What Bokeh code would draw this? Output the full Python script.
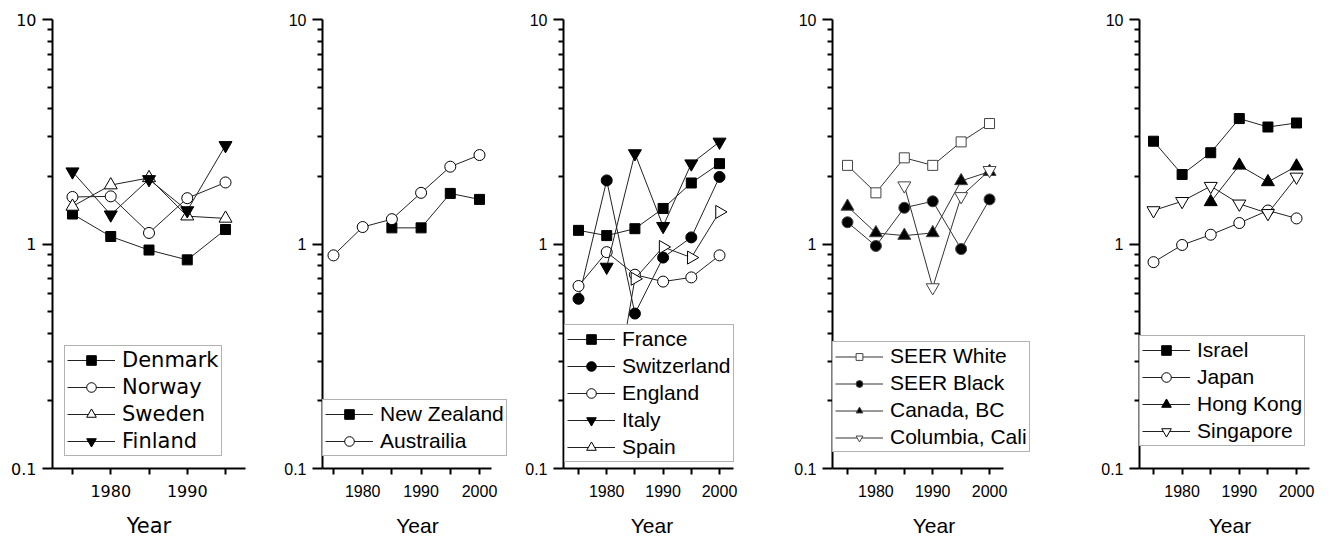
from bokeh.plotting import figure
from bokeh.layouts import row
from bokeh.models import Legend, LegendItem, FixedTicker, Range1d, BasicTickFormatter
from bokeh.embed import file_html
from bokeh.resources import INLINE
import math

# ---------------- data ----------------
years_75_95 = [1975, 1980, 1985, 1990, 1995]
years_75_00 = [1975, 1980, 1985, 1990, 1995, 2000]
years_80_00 = [1980, 1985, 1990, 1995, 2000]
years_85_00 = [1985, 1990, 1995, 2000]

# Panel 1 - Nordic
denmark = [1.36, 1.08, 0.94, 0.85, 1.16]
norway = [1.62, 1.63, 1.12, 1.60, 1.88]
sweden = [1.47, 1.83, 1.97, 1.33, 1.30]
finland = [2.10, 1.35, 1.94, 1.41, 2.75]

# Panel 2 - Oceania
new_zealand = [1.18, 1.18, 1.68, 1.58]
australia = [0.89, 1.19, 1.29, 1.69, 2.21, 2.49]

# Panel 3 - Europe
france = [1.15, 1.09, 1.17, 1.44, 1.87, 2.28]
switzerland = [0.57, 1.92, 0.49, 0.87, 1.07, 1.99]
england = [0.65, 0.92, 0.73, 0.68, 0.71, 0.89]
italy = [0.79, 2.53, 1.20, 2.28, 2.85]
spain = [0.13, 0.70, 0.97, 0.87, 1.39]

# Panel 4 - Americas
seer_white = [2.24, 1.69, 2.42, 2.24, 2.85, 3.44]
seer_black = [1.25, 0.98, 1.45, 1.55, 0.95, 1.58]
canada_bc = [1.47, 1.12, 1.09, 1.12, 1.91, 2.10]
columbia_cali = [1.82, 0.64, 1.63, 2.13]

# Panel 5 - Asia
israel = [2.87, 2.04, 2.55, 3.62, 3.32, 3.46]
japan = [0.83, 0.99, 1.10, 1.24, 1.41, 1.30]
hong_kong = [1.54, 2.24, 1.89, 2.22]
singapore = [1.41, 1.55, 1.81, 1.51, 1.37, 1.99]

# ticks
y_ticks = [0.1, 1, 10]
y_tick_labels = ["0.1", "1", "10"]
y_minor_ticks = [0.2, 0.3, 0.4, 0.5, 0.6, 0.7, 0.8, 0.9, 2, 3, 4, 5, 6, 7, 8, 9]
x_ticks = [1980, 1990, 2000]
x_tick_labels = ["1980", "1990", "2000"]
x_minor_ticks = [1975, 1985, 1995]

FONT = "Liberation Sans"

MARK = {
    "sq_f": dict(marker="square", fill_color="black", size=10, angle=0.0),
    "sq_o": dict(marker="square", fill_color="white", size=10, angle=0.0),
    "ci_f": dict(marker="circle", fill_color="black", size=11, angle=0.0),
    "ci_o": dict(marker="circle", fill_color="white", size=11, angle=0.0),
    "tu_f": dict(marker="triangle", fill_color="black", size=13, angle=0.0),
    "tu_o": dict(marker="triangle", fill_color="white", size=13, angle=0.0),
    "td_f": dict(marker="inverted_triangle", fill_color="black", size=13, angle=0.0),
    "td_o": dict(marker="inverted_triangle", fill_color="white", size=13, angle=0.0),
    "tr_o": dict(marker="triangle", fill_color="white", size=13, angle=-math.pi / 2),
}


def make_panel(width, left, right, axis_span, frame_right, series, legend_loc,
               legend_glyph_h=24, line_color="#222222", marker_line="black",
               font=FONT):
    x0, x1 = axis_span
    p = figure(width=width, height=540, y_axis_type="log",
               x_range=Range1d(x0, frame_right), y_range=Range1d(0.1, 10),
               output_backend="svg", toolbar_location=None,
               min_border_left=left, min_border_right=right,
               min_border_top=19, min_border_bottom=70)
    p.outline_line_color = None
    p.xgrid.visible = False
    p.ygrid.visible = False
    p.background_fill_color = "white"
    p.border_fill_color = "white"

    items = []
    for label, xs, ys, mk in series:
        lr = p.line(xs, ys, line_color=line_color, line_width=1)
        m = MARK[mk]
        sr = p.scatter(xs, ys, marker=m["marker"], size=m["size"], angle=m["angle"],
                       fill_color=m["fill_color"], line_color=marker_line, line_width=1)
        items.append(LegendItem(label=label, renderers=[lr, sr]))

    for ax in p.axis:
        ax.axis_line_width = 2
        ax.axis_line_color = "black"
        ax.major_tick_line_width = 2
        ax.minor_tick_line_width = 2
        ax.major_tick_in = 0
        ax.minor_tick_in = 0
        ax.major_label_text_font = font
        ax.major_label_text_font_size = "16px"
        ax.major_label_text_color = "black"

    yax = p.yaxis[0]
    yax.ticker = FixedTicker(ticks=y_ticks, minor_ticks=y_minor_ticks)
    yax.formatter = BasicTickFormatter()
    yax.major_label_overrides = dict(zip(y_ticks, y_tick_labels))
    yax.major_tick_out = 10
    yax.minor_tick_out = 5
    yax.major_label_standoff = 6

    xax = p.xaxis[0]
    xax.bounds = (x0, x1)
    xax.ticker = FixedTicker(ticks=x_ticks, minor_ticks=x_minor_ticks)
    xax.major_label_overrides = dict(zip(x_ticks, x_tick_labels))
    xax.major_tick_out = 6
    xax.minor_tick_out = 6
    xax.major_label_standoff = 10
    xax.axis_label = "Year"
    xax.axis_label_text_font = font
    xax.axis_label_text_font_size = "21px"
    xax.axis_label_text_font_style = "normal"
    xax.axis_label_text_color = "black"
    xax.axis_label_standoff = 14

    legend = Legend(items=items, location=legend_loc, padding=2, spacing=3,
                    glyph_width=48, glyph_height=legend_glyph_h, label_height=24,
                    label_standoff=7, label_text_font=font,
                    label_text_font_size="21px", label_text_color="black",
                    border_line_color="#666666", border_line_width=1,
                    background_fill_color="white", background_fill_alpha=1.0,
                    margin=0)
    p.add_layout(legend, "center")
    return p


p1 = make_panel(280, 52, 35, (1972.39, 1997.61), 1997.61, [
    ("Denmark", years_75_95, denmark, "sq_f"),
    ("Norway", years_75_95, norway, "ci_o"),
    ("Sweden", years_75_95, sweden, "tu_o"),
    ("Finland", years_75_95, finland, "td_f"),
], (12, 12), font="DejaVu Sans")

p2 = make_panel(242, 42, 10, (1973.12, 2002.05), 2005.65, [
    ("New Zealand", years_85_00, new_zealand, "sq_f"),
    ("Austrailia", years_75_00, australia, "ci_o"),
], (0, 12))

p3 = make_panel(268, 41, 50, (1972.34, 2002.48), 2003.72, [
    ("France", years_75_00, france, "sq_f"),
    ("Switzerland", years_75_00, switzerland, "ci_f"),
    ("England", years_75_00, england, "ci_o"),
    ("Italy", years_80_00, italy, "td_f"),
    ("Spain", years_80_00, spain, "tr_o"),
], (1, 6))

p4 = make_panel(303, 42, 58, (1972.36, 2002.46), 2008.09, [
    ("SEER White", years_75_00, seer_white, "sq_o"),
    ("SEER Black", years_75_00, seer_black, "ci_f"),
    ("Canada, BC", years_75_00, canada_bc, "tu_f"),
    ("Columbia, Cali", years_85_00, columbia_cali, "td_o"),
], (0, 16), legend_glyph_h=17, line_color="#333333", marker_line="#444444")

p5 = make_panel(237, 46, 10, (1972.55, 2002.27), 2004.19, [
    ("Israel", years_75_00, israel, "sq_f"),
    ("Japan", years_75_00, japan, "ci_o"),
    ("Hong Kong", years_85_00, hong_kong, "tu_f"),
    ("Singapore", years_75_00, singapore, "td_o"),
], (0, 22))

layout = row(p1, p2, p3, p4, p5, spacing=0)
open("out.html", "w").write(file_html(layout, INLINE))
